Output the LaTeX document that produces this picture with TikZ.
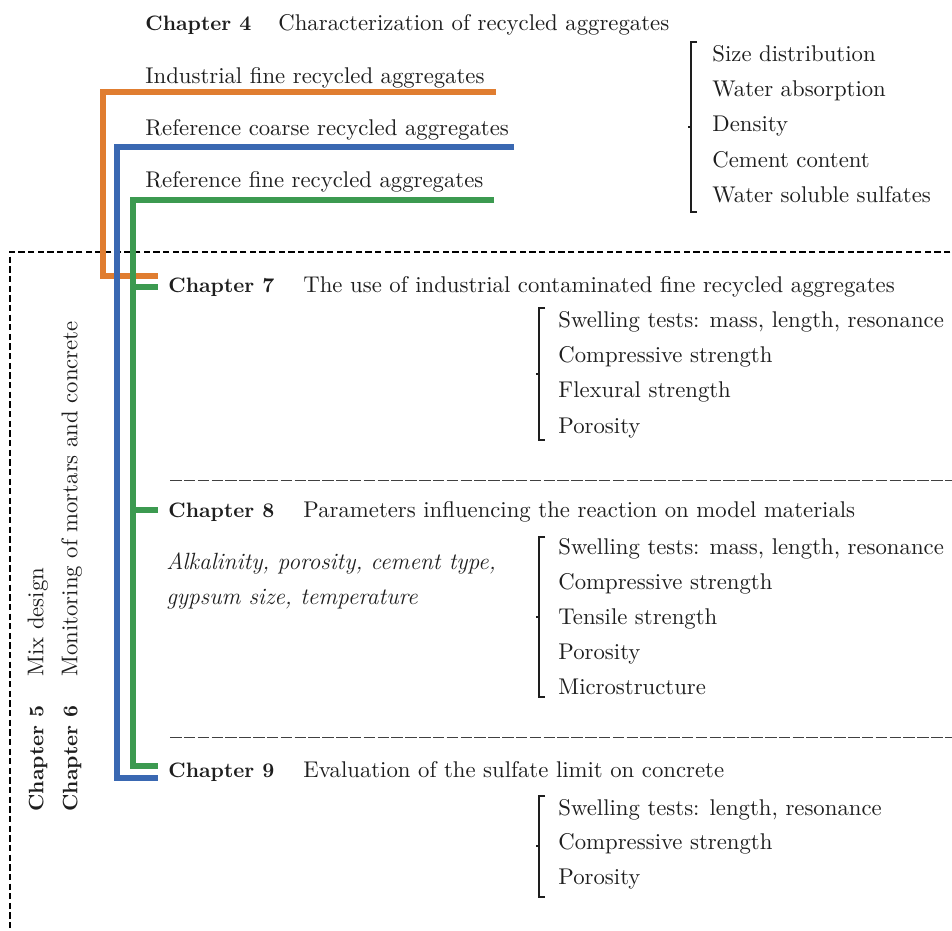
\documentclass[tikz,border=0pt]{standalone}
\usepackage{xcolor}
\definecolor{corange}{RGB}{224,125,48}
\definecolor{cblue}{RGB}{58,104,178}
\definecolor{cgreen}{RGB}{60,154,80}
\definecolor{ctext}{RGB}{30,30,30}
\begin{document}
\begin{tikzpicture}[x=0.477pt,y=-0.477pt,
  every node/.style={inner sep=0pt, text=ctext, font=\fontsize{10.85}{13}\selectfont, text height=1.6ex, text depth=0.4ex},
  lbl/.style={anchor=west, yshift=-0.9pt},
  chap/.style={anchor=west, yshift=-0.9pt, font=\fontsize{9.95}{12}\selectfont\bfseries},
  itl/.style={anchor=west, yshift=-0.9pt, font=\fontsize{11.2}{13}\selectfont\itshape},
  vlbl/.style={anchor=west, rotate=90},
  vchap/.style={anchor=west, font=\fontsize{9.95}{12}\selectfont\bfseries, rotate=90},
  feed/.style={line width=2.4pt},
  brack/.style={line width=0.7pt, draw=ctext},
  sep/.style={draw=black!75, line width=0.45pt, dash pattern=on 5.5pt off 1.1pt},
  dbox/.style={draw=black, line width=0.8pt, dash pattern=on 3pt off 1.6pt}]
\useasboundingbox (0,0) rectangle (952,931);

% dashed frame
\coordinate (fr1) at (960,252);
\coordinate (fr2) at (10,252);
\coordinate (fr3) at (10,940);
\draw[dbox] (fr1) -- (fr2) -- (fr3);

% chapter 4
\node[chap] (c4) at (145,23) {Chapter 4};
\node[lbl] (c4t) at (278,23) {Characterization of recycled aggregates};
\node[lbl] (ifra) at (145,76) {Industrial fine recycled aggregates};
\node[lbl] (rcra) at (145,128) {Reference coarse recycled aggregates};
\node[lbl] (rfra) at (145,180) {Reference fine recycled aggregates};

\node[lbl] (p1) at (712,54) {Size distribution};
\node[lbl] (p2) at (712,89) {Water absorption};
\node[lbl] (p3) at (712,124) {Density};
\node[lbl] (p4) at (712,160) {Cement content};
\node[lbl] (p5) at (712,195) {Water soluble sulfates};
\draw[brack] (697,42) -- (691,42) -- (691,212) -- (697,212) (691,127) -- (688,127);

% chapter 7
\node[chap] (c7) at (168,285) {Chapter 7};
\node[lbl] (c7t) at (303,285) {The use of industrial contaminated fine recycled aggregates};
\node[lbl] (a1) at (558,320) {Swelling tests: mass, length, resonance};
\node[lbl] (a2) at (558,355) {Compressive strength};
\node[lbl] (a3) at (558,390) {Flexural strength};
\node[lbl] (a4) at (558,426) {Porosity};
\draw[brack] (545,308) -- (539,308) -- (539,440) -- (545,440) (539,374) -- (536,374);

\draw[sep] (170,480) -- (952,480);

% chapter 8
\node[chap] (c8) at (168,510) {Chapter 8};
\node[lbl] (c8t) at (303,510) {Parameters influencing the reaction on model materials};
\node[itl] (i1) at (166,562) {Alkalinity, porosity, cement type,};
\node[itl] (i2) at (166,597) {gypsum size, temperature};
\node[lbl] (b1) at (558,547) {Swelling tests: mass, length, resonance};
\node[lbl] (b2) at (558,582) {Compressive strength};
\node[lbl] (b3) at (558,617) {Tensile strength};
\node[lbl] (b4) at (558,652) {Porosity};
\node[lbl] (b5) at (558,687) {Microstructure};
\draw[brack] (545,537) -- (539,537) -- (539,697) -- (545,697) (539,617) -- (536,617);

\draw[sep] (170,737) -- (952,737);

% chapter 9
\node[chap] (c9) at (168,770) {Chapter 9};
\node[lbl] (c9t) at (303,770) {Evaluation of the sulfate limit on concrete};
\node[lbl] (d1) at (558,808) {Swelling tests: length, resonance};
\node[lbl] (d2) at (558,842) {Compressive strength};
\node[lbl] (d3) at (558,877) {Porosity};
\draw[brack] (545,796) -- (539,796) -- (539,897) -- (545,897) (539,846) -- (536,846);

% vertical labels
\node[vchap] (c5) at (38,812) {Chapter 5};
\node[vlbl] (c5t) at (38,677) {Mix design};
\node[vchap] (c6) at (72,812) {Chapter 6};
\node[vlbl] (c6t) at (72,677) {Monitoring of mortars and concrete};

% feed lines
\draw[feed, corange] (496,92) -- (103,92) -- (103,276) -- (158,276);
\draw[feed, cblue] (514,147) -- (117,147) -- (117,778) -- (158,778);
\draw[feed, cgreen] (494,200) -- (133,200) -- (133,766) -- (158,766);
\draw[feed, cgreen] (133,287) -- (158,287);
\draw[feed, cgreen] (133,510) -- (158,510);
\end{tikzpicture}
\end{document}
